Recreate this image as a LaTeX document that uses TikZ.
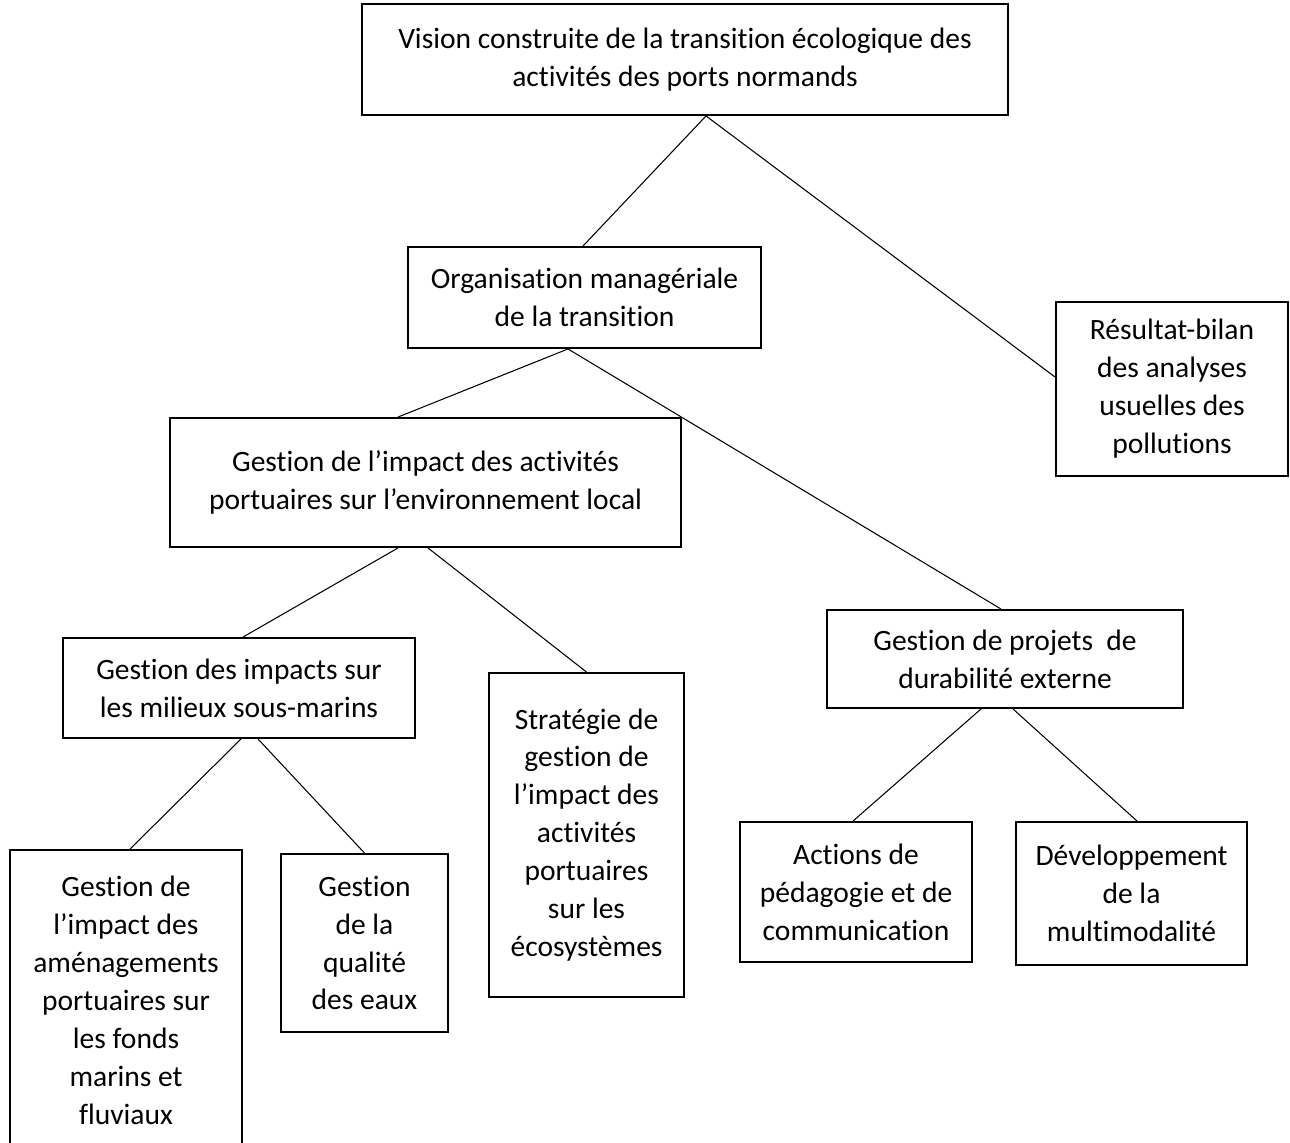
\documentclass[tikz,border=0pt]{standalone}
\usepackage{fontspec}
\setmainfont{Carlito}[Ligatures=NoCommon]
\usetikzlibrary{positioning,calc}
\definecolor{OrgInk}{RGB}{0,0,0}
\tikzset{
  org box/.style={
    draw=OrgInk,
    line width=1.1pt,
    align=center,
    font=\fontsize{16.8}{21.6}\selectfont,
    inner sep=0pt
  },
  org link/.style={draw=OrgInk, line width=0.6pt}
}
\begin{document}
\begin{tikzpicture}[x=0.02cm,y=-0.02cm]
\useasboundingbox (0,0) rectangle (1290,1142);
\node[org box, minimum width=646*0.02cm, minimum height=111*0.02cm] (vis) at (685,59.5) {Vision construite de la transition écologique des\\activités des ports normands};
\node[org box, minimum width=353*0.02cm, minimum height=101*0.02cm] (org) at (584.5,297.5) {Organisation managériale\\de la transition};
\node[org box, minimum width=232*0.02cm, minimum height=174*0.02cm] (res) at (1172,389) {Résultat-bilan\\des analyses\\usuelles des\\pollutions};
\node[org box, minimum width=511*0.02cm, minimum height=129*0.02cm] (gimp) at (425.5,482.5) {Gestion de l’impact des activités\\portuaires sur l’environnement local};
\node[org box, minimum width=356*0.02cm, minimum height=98*0.02cm] (proj) at (1005,659) {Gestion de projets\ \ de\\durabilité externe};
\node[org box, minimum width=352*0.02cm, minimum height=100*0.02cm] (smar) at (239,688) {Gestion des impacts sur\\les milieux sous-marins};
\node[org box, minimum width=195*0.02cm, minimum height=324*0.02cm] (strat) at (586.5,835) {Stratégie de\\gestion de\\l’impact des\\activités\\portuaires\\sur les\\écosystèmes};
\node[org box, minimum width=232*0.02cm, minimum height=300*0.02cm] (amen) at (126,1000) {Gestion de\\l’impact des\\aménagements\\portuaires sur\\les fonds\\marins et\\fluviaux};
\node[org box, minimum width=167*0.02cm, minimum height=178*0.02cm] (qual) at (364.5,943) {Gestion\\de la\\qualité\\des eaux};
\node[org box, minimum width=232*0.02cm, minimum height=140*0.02cm] (act) at (856,892) {Actions de\\pédagogie et de\\communication};
\node[org box, minimum width=231*0.02cm, minimum height=143*0.02cm] (dev) at (1131.5,893.5) {Développement\\de la\\multimodalité};
% connectors
\draw[org link] ($(vis.south)+(21,0)$) -- ($(org.north)+(-1.5,0)$);
\draw[org link] ($(vis.south)+(21,0)$) -- ($(res.west)+(0,-12)$);
\draw[org link] ($(org.south)+(-16.5,0)$) -- ($(gimp.north)+(-27.5,0)$);
\draw[org link] ($(org.south)+(-16.5,0)$) -- ($(proj.north)+(-4,0)$);
\draw[org link] ($(gimp.south)+(-27.5,0)$) -- ($(smar.north)+(4,0)$);
\draw[org link] ($(gimp.south)+(2.5,0)$) -- (strat.north);
\draw[org link] ($(smar.south)+(2,0)$) -- ($(amen.north)+(4,0)$);
\draw[org link] ($(smar.south)+(19,0)$) -- (qual.north);
\draw[org link] ($(proj.south)+(-24,0)$) -- ($(act.north)+(-3,0)$);
\draw[org link] ($(proj.south)+(8,0)$) -- ($(dev.north)+(5.5,0)$);
\end{tikzpicture}
\end{document}
